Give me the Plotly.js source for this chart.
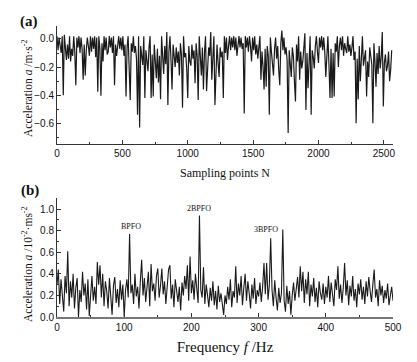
<!DOCTYPE html>
<html>
<head>
<meta charset="utf-8">
<script src="https://cdn.plot.ly/plotly-3.0.1.min.js"></script>
<style>
html,body{margin:0;padding:0;background:#fff;}
#chart{width:417px;height:362px;}
</style>
</head>
<body>
<div id="chart"></div>
<script>
// ---------- Panel (a): time signal, one value every 8 sampling points ----------
var sampleStep = 8;
var timeSignal = [
 0.02,-0.08,0.01,-0.05,-0.10,0.02,-0.40,0.03,-0.06,-0.15,-0.04,-0.14,0.02,-0.16,-0.07,-0.12,0.02,-0.09,-0.33,0.01,
 -0.06,0.02,-0.10,0.01,-0.07,-0.29,-0.04,-0.26,-0.08,0.01,-0.05,-0.12,0.02,-0.09,0.01,-0.07,0.02,-0.13,0.01,-0.375,
 0.02,-0.07,-0.405,-0.03,-0.16,0.02,-0.08,0.01,-0.11,-0.09,0.02,-0.06,0.01,-0.10,0.02,-0.33,-0.04,-0.12,-0.05,0.02,
 -0.07,0.01,-0.08,0.02,-0.12,-0.04,-0.41,-0.06,0.02,-0.18,-0.435,-0.03,-0.09,0.02,-0.10,-0.05,-0.14,-0.54,0.02,-0.63,
 -0.05,-0.12,-0.185,0.02,-0.42,-0.08,-0.15,-0.23,-0.06,0.02,-0.42,-0.11,-0.41,-0.04,-0.16,-0.28,-0.07,-0.31,-0.12,-0.43,
 0.02,-0.14,-0.25,-0.05,-0.18,0.05,-0.47,-0.09,0.02,-0.15,-0.36,-0.04,-0.12,-0.20,-0.06,-0.17,-0.09,-0.26,-0.03,-0.11,
 -0.49,0.02,-0.13,-0.10,-0.21,-0.42,-0.05,-0.16,-0.19,-0.04,-0.14,-0.08,-0.315,-0.03,-0.12,-0.435,0.02,-0.17,-0.26,-0.06,
 -0.36,-0.10,0.02,-0.37,-0.15,-0.06,-0.12,0.05,-0.29,-0.09,0.02,-0.47,-0.14,-0.04,-0.17,-0.27,-0.06,-0.13,-0.09,-0.42,
 0.02,-0.10,0.01,-0.15,-0.05,0.02,-0.08,0.01,-0.06,0.02,-0.08,0.01,-0.12,-0.04,0.02,-0.06,0.01,-0.07,-0.03,-0.53,
 0.02,-0.06,0.01,-0.09,0.02,-0.05,-0.16,0.01,-0.08,0.02,-0.11,-0.04,-0.14,-0.06,0.02,-0.29,-0.09,-0.20,-0.36,-0.07,
 -0.34,-0.05,-0.12,-0.54,0.01,-0.09,-0.18,-0.26,-0.07,0.01,-0.14,-0.05,-0.22,-0.33,-0.03,0.06,-0.08,0.01,-0.11,-0.06,
 -0.15,-0.67,-0.08,-0.20,-0.27,-0.06,-0.12,-0.30,-0.445,-0.04,-0.16,0.02,-0.29,-0.09,-0.21,-0.16,-0.07,0.04,-0.505,-0.10,
 -0.35,-0.12,0.02,-0.54,-0.08,-0.13,-0.21,-0.05,0.02,-0.09,-0.17,0.01,-0.06,0.02,-0.08,0.01,-0.09,-0.27,-0.05,0.02,
 -0.18,-0.42,-0.07,-0.42,-0.10,-0.41,-0.03,-0.09,0.02,-0.20,-0.05,0.01,-0.08,0.02,-0.12,-0.03,-0.07,-0.10,0.02,-0.09,
 -0.04,-0.12,-0.06,0.02,-0.15,-0.09,-0.60,-0.14,-0.43,-0.05,-0.30,-0.11,0.02,-0.19,-0.13,-0.08,-0.41,-0.16,-0.27,-0.06,
 -0.12,-0.18,-0.60,-0.03,-0.16,-0.34,-0.10,-0.25,-0.05,-0.21,-0.13,0.05,-0.48,-0.17,-0.11,-0.23,-0.19,-0.09,-0.30,-0.22,
 -0.08
];
var sampleIdx = timeSignal.map(function(_, i){ return i * sampleStep; });

// ---------- Panel (b): spectrum, one value every 2 Hz ----------
var freqStep = 2;
var spectrum = [
 0.30,0.44,0.12,0.35,0.20,0.05,0.38,0.22,0.61,0.10,0.33,0.18,0.40,0.08,0.27,0.36,0.00,0.25,0.14,0.42,0.20,0.31,0.07,0.35,0.01,
 0.22,0.38,0.15,0.28,0.12,0.51,0.30,0.48,0.18,0.40,0.10,0.33,0.24,0.08,0.36,0.20,0.02,0.29,0.37,0.13,0.26,0.09,0.34,0.16,0.30,
 0.00,0.25,0.35,0.18,0.77,0.22,0.30,0.12,0.40,0.19,0.28,0.08,0.33,0.53,0.20,0.36,0.14,0.27,0.42,0.10,0.49,0.24,0.31,0.15,0.38,
 0.45,0.18,0.29,0.45,0.21,0.33,0.12,0.26,0.44,0.48,0.17,0.30,0.09,0.35,0.23,0.14,0.28,0.06,0.32,0.20,0.38,0.26,0.48,0.15,0.56,
 0.22,0.34,0.16,0.40,0.27,0.13,0.94,0.25,0.18,0.46,0.12,0.30,0.20,0.09,0.27,0.15,0.33,0.11,0.24,0.07,0.29,0.14,0.22,0.10,0.02,
 0.20,0.12,0.28,0.16,0.35,0.09,0.24,0.18,0.47,0.13,0.31,0.20,0.38,0.11,0.27,0.40,0.15,0.33,0.22,0.08,0.30,0.17,0.36,0.12,0.25,
 0.19,0.32,0.14,0.28,0.50,0.21,0.50,0.16,0.30,0.73,0.25,0.10,0.34,0.18,0.06,0.27,0.13,0.22,0.81,0.15,0.05,0.29,0.12,0.24,0.02,
 0.20,0.32,0.15,0.28,0.37,0.18,0.47,0.24,0.42,0.13,0.35,0.21,0.42,0.10,0.30,0.19,0.36,0.14,0.27,0.09,0.33,0.22,0.16,0.31,0.12,
 0.28,0.18,0.38,0.14,0.32,0.22,0.10,0.35,0.25,0.47,0.17,0.30,0.13,0.27,0.50,0.20,0.34,0.11,0.29,0.19,0.38,0.15,0.26,0.09,0.31,
 0.21,0.35,0.16,0.28,0.12,0.33,0.19,0.37,0.24,0.14,0.30,0.44,0.18,0.26,0.10,0.34,0.20,0.29,0.13,0.25,0.17,0.31,0.11,0.22,0.28,0.15
];
var freqs = spectrum.map(function(_, i){ return i * freqStep; });

// ---------- Peak labels ----------
var peakLabels = ["BPFO", "2BPFO", "3BPFO"];
var peakFreqs = [110, 212, 311];
var peakLabelY = [0.836, 1.009, 0.808];

var serif = "Liberation Serif, Times New Roman, serif";
var sans = "Liberation Sans Narrow, Arial Narrow, Liberation Sans, Arial, sans-serif";
var ink = "#1a1a1a";

var traces = [
  {x: sampleIdx, y: timeSignal, xaxis: "x", yaxis: "y", type: "scatter", mode: "lines",
   line: {color: ink, width: 1.2}, hoverinfo: "skip"},
  {x: freqs, y: spectrum, xaxis: "x2", yaxis: "y2", type: "scatter", mode: "lines",
   line: {color: ink, width: 1.1}, hoverinfo: "skip"}
];

var tickFont = {family: sans, size: 10, color: "#111"};
function axisBase(){
  return {showgrid: false, zeroline: false, showline: true, linecolor: "#333", linewidth: 1,
          ticks: "inside", ticklen: 4, tickcolor: "#333", tickfont: tickFont, mirror: false};
}

var xa = axisBase();
Object.assign(xa, {domain: [0,1], anchor: "y", range: [0, 2570], dtick: 500, tick0: 0,
  minor: {dtick: 250, ticks: "inside", ticklen: 2, tickcolor: "#333"},
  title: {text: "Sampling points N", font: {family: serif, size: 12, color: "#111"}, standoff: 10}});
var ya = axisBase();
Object.assign(ya, {domain: [0.5935, 1], anchor: "x", range: [-0.75, 0.0925], dtick: 0.2, tick0: 0,
  tickformat: ".1f",
  minor: {dtick: 0.1, ticks: "inside", ticklen: 2, tickcolor: "#333"}});
var xb = axisBase();
Object.assign(xb, {domain: [0,1], anchor: "y2", range: [0, 500], dtick: 100, tick0: 0,
  linecolor: "#777", linewidth: 1.5,
  minor: {dtick: 50, ticks: "inside", ticklen: 2, tickcolor: "#333"},
  title: {text: "Frequency <i>f</i> /Hz", font: {family: serif, size: 15, color: "#111"}, standoff: 10}});
var yb = axisBase();
Object.assign(yb, {domain: [0, 0.4079], anchor: "x2", range: [0, 1.1], dtick: 0.2, tick0: 0,
  tickformat: ".1f",
  minor: {dtick: 0.1, ticks: "inside", ticklen: 2, tickcolor: "#333"}});

var annotations = peakLabels.map(function(t, i){
  return {text: t, x: peakFreqs[i], y: peakLabelY[i], xref: "x2", yref: "y2",
          xanchor: "center", yanchor: "middle",
          showarrow: false, font: {family: serif, size: 8, color: "#111"}};
});
// y-axis titles placed exactly as in the reference
annotations.push({text: "Acceleration <i>a</i> /m·s<sup>-2</sup>", xref: "paper", yref: "paper",
  x: -0.0893, y: 0.787, xanchor: "center", yanchor: "middle", textangle: -90,
  showarrow: false, font: {family: serif, size: 11.5, color: "#111"}});
annotations.push({text: "Acceleration <i>a</i> /10<sup>-2</sup>·ms<sup>-2</sup>", xref: "paper", yref: "paper",
  x: -0.0893, y: 0.182, xanchor: "center", yanchor: "middle", textangle: -90,
  showarrow: false, font: {family: serif, size: 11.5, color: "#111"}});
annotations.push({text: "<b>(a)</b>", xref: "paper", yref: "paper", x: -0.083, y: 1.017,
  xanchor: "center", yanchor: "middle",
  showarrow: false, font: {family: serif, size: 15, color: "#111"}});
annotations.push({text: "<b>(b)</b>", xref: "paper", yref: "paper", x: -0.080, y: 0.433,
  xanchor: "center", yanchor: "middle",
  showarrow: false, font: {family: serif, size: 15, color: "#111"}});

var layout = {
  width: 417, height: 362,
  margin: {l: 57, r: 24, t: 26, b: 45},
  paper_bgcolor: "#fff", plot_bgcolor: "#fff",
  showlegend: false,
  xaxis: xa, yaxis: ya, xaxis2: xb, yaxis2: yb,
  annotations: annotations
};

Plotly.newPlot("chart", traces, layout, {staticPlot: true, displayModeBar: false});
</script>
</body>
</html>
